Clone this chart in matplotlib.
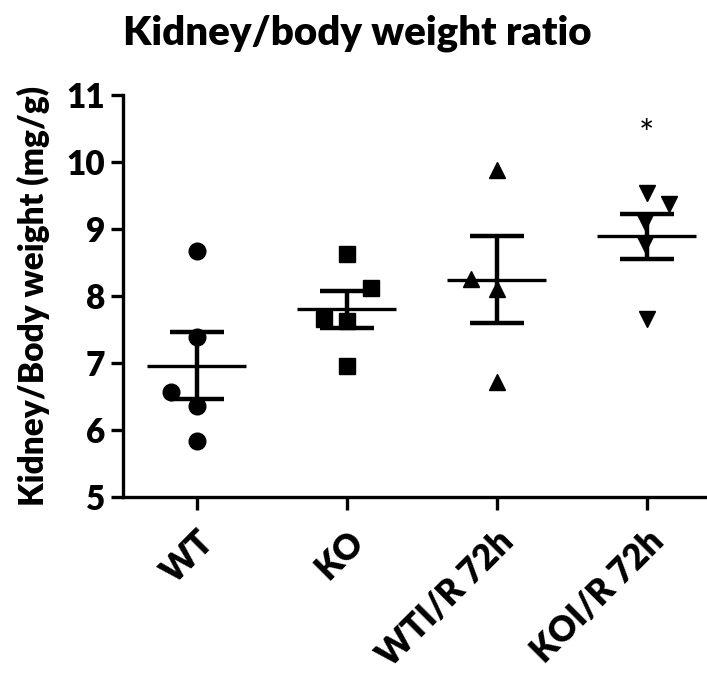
import numpy as np
import matplotlib
matplotlib.use("Agg")
import matplotlib.pyplot as plt

plt.rcParams['font.family'] = ['Lato', 'DejaVu Sans']

categories = ["WT", "KO", "WTI/R 72h", "KOI/R 72h"]
wt = [8.67, 7.38, 6.56, 6.36, 5.83]
ko = [8.63, 8.12, 7.66, 7.63, 6.96]
wt_ir = [9.88, 8.26, 8.11, 6.71]
ko_ir = [9.53, 9.38, 9.10, 8.78, 7.66]
groups = [wt, ko, wt_ir, ko_ir]
markers = ['o', 's', '^', 'v']
msizes = [12, 12, 11, 11]
# horizontal scatter offsets (layout only)
offsets = [[0, 0, -0.17, 0, 0],
           [0, 0.16, -0.15, 0, 0],
           [0, -0.17, 0, 0],
           [0, 0.15, -0.01, -0.01, 0]]

FW = 'heavy'

fig = plt.figure(figsize=(7.07, 6.89), dpi=100)
ax = fig.add_axes([0.174, 0.279, 0.826, 0.583])

for i, (vals, m, ms, off) in enumerate(zip(groups, markers, msizes, offsets)):
    v = np.array(vals)
    x = i + np.array(off)
    ax.plot(x, v, linestyle='none', marker=m, color='black', markersize=ms, zorder=3)
    mean = v.mean()
    sem = v.std(ddof=1) / np.sqrt(len(v))
    ax.hlines(mean, i - 0.33, i + 0.33, color='black', lw=2.4, zorder=4)
    ax.hlines([mean - sem, mean + sem], i - 0.18, i + 0.18, color='black', lw=3.2, zorder=4)
    ax.vlines(i, mean - sem, mean + sem, color='black', lw=3.2, zorder=4)

ax.text(3, 10.4, "*", ha='center', va='center', fontsize=26, color='black')

ax.set_xlim(-0.49, 3.4)
ax.set_ylim(5, 11)
ax.set_yticks([5, 6, 7, 8, 9, 10, 11])
ax.set_xticks(range(4))
ax.set_xticklabels(categories, rotation=45, ha='right', va='top',
                   rotation_mode='anchor', fontsize=25, fontweight=FW)
for lab in ax.get_yticklabels():
    lab.set_fontsize(24)
    lab.set_fontweight(FW)
ax.spines['top'].set_visible(False)
ax.spines['right'].set_visible(False)
ax.spines['left'].set_linewidth(2.4)
ax.spines['bottom'].set_linewidth(2.4)
ax.tick_params(axis='y', width=2.4, length=9, direction='out', pad=4)
ax.tick_params(axis='x', width=2.4, length=9, direction='out', pad=11)
ax.set_ylabel("Kidney/Body weight (mg/g)", fontsize=24, fontweight=FW, labelpad=12)

fig.text(0.505, 0.952, "Kidney/body weight ratio", ha='center', va='center',
         fontsize=29, fontweight=FW)

fig.savefig("out.png", dpi=100)
